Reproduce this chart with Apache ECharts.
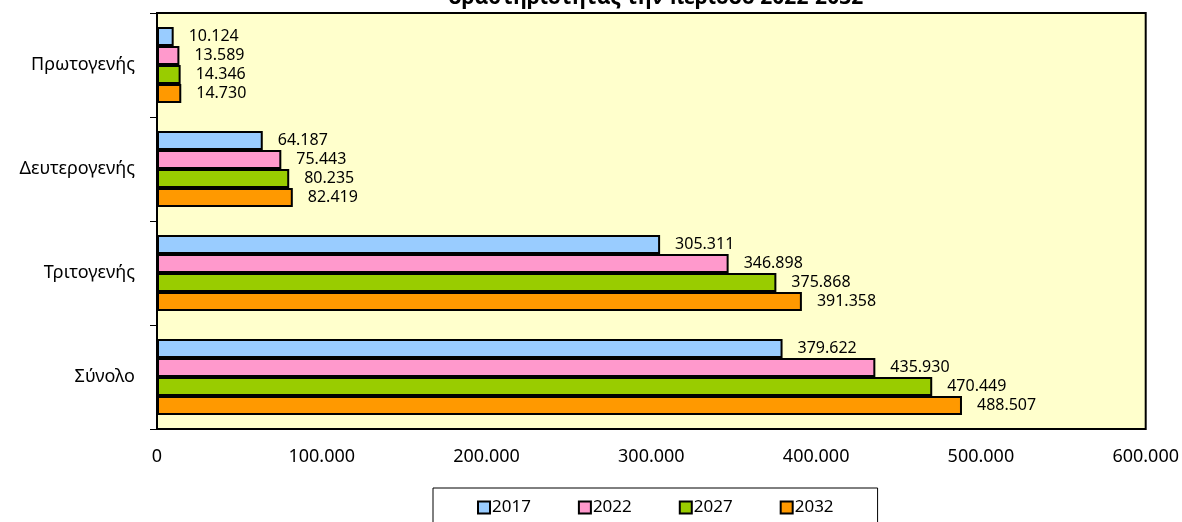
<!DOCTYPE html>
<html>
<head>
<meta charset="utf-8">
<script src="https://cdn.jsdelivr.net/npm/echarts@6/dist/echarts.min.js"></script>
<style>
html,body{margin:0;padding:0;background:#fff;}
#chart{width:1182px;height:522px;}
</style>
</head>
<body>
<div id="chart"></div>
<script>
const titleText = "δραστηριότητας την περίοδο 2022-2032";
const categories = ["Πρωτογενής", "Δευτερογενής", "Τριτογενής", "Σύνολο"];
const seriesNames = ["2017", "2022", "2027", "2032"];
const values2017 = [10124, 64187, 305311, 379622];
const values2022 = [13589, 75443, 346898, 435930];
const values2027 = [14346, 80235, 375868, 470449];
const values2032 = [14730, 82419, 391358, 488507];
const colors = ["#99CCFF", "#FF99CC", "#99CC00", "#FF9900"];
const allValues = [values2017, values2022, values2027, values2032];

function fmt(v) {
  return String(Math.round(v)).replace(/\B(?=(\d{3})+(?!\d))/g, ".");
}

const FONT = "Noto Sans";
const chart = echarts.init(document.getElementById('chart'), null, {renderer: 'canvas'});
chart.setOption({
  animation: false,
  backgroundColor: '#ffffff',
  title: {
    text: titleText,
    left: 651,
    textAlign: 'center',
    top: -17,
    textStyle: {fontFamily: FONT, fontSize: 21, fontWeight: 'bold', color: '#000'}
  },
  grid: {
    left: 157, right: 36, top: 13, bottom: 93,
    show: true, backgroundColor: '#FFFFCC', borderColor: '#000', borderWidth: 2
  },
  legend: {
    data: seriesNames,
    bottom: -16,
    left: 433,
    itemGap: 47,
    itemWidth: 12,
    itemHeight: 12,
    padding: [11, 44, 22, 44],
    borderColor: '#000',
    borderWidth: 1,
    icon: 'rect',
    itemStyle: {borderColor: '#000', borderWidth: 2},
    textStyle: {fontFamily: FONT, fontSize: 17, color: '#000', padding: [0, 0, 0, -3]}
  },
  xAxis: {
    type: 'value',
    min: 0, max: 600000, interval: 100000,
    axisLine: {show: false},
    axisTick: {show: false},
    splitLine: {show: false},
    axisLabel: {
      margin: 19,
      fontFamily: FONT, fontSize: 18, color: '#000',
      formatter: fmt
    }
  },
  yAxis: {
    type: 'category',
    data: categories,
    inverse: true,
    axisLine: {show: true, lineStyle: {color: '#000', width: 2}},
    axisTick: {show: true, length: 7, lineStyle: {color: '#000', width: 1}},
    axisLabel: {margin: 22, fontFamily: FONT, fontSize: 18, color: '#000'}
  },
  series: seriesNames.map((name, i) => ({
    name: name,
    type: 'bar',
    data: allValues[i],
    barGap: '0%',
    barCategoryGap: '27%',
    itemStyle: {color: colors[i], borderColor: '#000', borderWidth: 2},
    label: {
      show: true,
      position: 'right',
      distance: 15,
      fontFamily: FONT, fontSize: 16, color: '#000',
      formatter: p => fmt(p.value)
    }
  }))
});
</script>
</body>
</html>
